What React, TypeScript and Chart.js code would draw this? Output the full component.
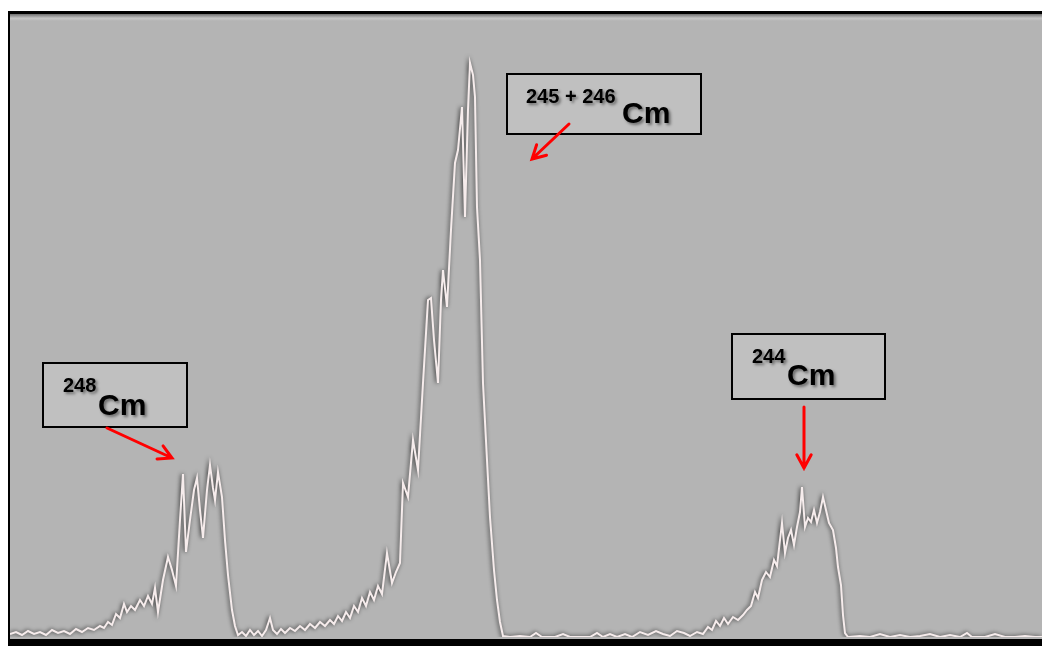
import { useEffect, useRef } from "react";
import { Chart, registerables } from "chart.js";

Chart.register(...registerables);

// channel numbers and counts
const channels = [
  0, 6, 12, 18, 24, 30, 36, 42, 48, 54, 60, 66, 72, 78, 84, 90, 94, 98, 102, 106,
  110, 114, 117, 121, 125, 130, 134, 138, 142, 145, 148, 153, 158, 162, 166, 170,
  173, 176, 180, 184, 187, 190, 193, 197, 200, 203, 205, 208, 212, 215, 218, 222,
  225, 228, 232, 236, 240, 244, 248, 252, 256, 260, 263, 267, 271, 275, 280, 285,
  290, 295, 300, 305, 310, 315, 320, 324, 328, 332, 336, 340, 344, 348, 352, 356,
  360, 364, 368, 372, 377, 382, 386, 390, 393, 398, 403, 408, 413, 418, 421, 424,
  428, 431, 433, 437, 441, 445, 448, 452, 455, 458, 460, 463, 465, 467, 470, 473,
  477, 480, 484, 487, 490, 493, 500, 510, 520, 526, 532, 545, 553, 560, 580, 587,
  593, 600, 607, 615, 622, 630, 638, 646, 653, 660, 667, 674, 680, 687, 693, 698,
  702, 706, 710, 714, 718, 723, 728, 733, 737, 741, 745, 748, 752, 756, 760, 764,
  767, 770, 772, 775, 778, 781, 784, 787, 790, 792, 795, 798, 801, 804, 807, 810,
  813, 816, 819, 823, 826, 828, 831, 833, 835, 838, 850, 860, 870, 880, 890, 900,
  910, 920, 930, 940, 950, 957, 962, 975, 985, 995, 1005, 1015, 1025, 1032,
];

const counts = [
  3, 5, 2, 6, 3, 5, 2, 7, 4, 6, 3, 8, 5, 9, 7, 11, 9, 15, 12, 23,
  19, 33, 25, 31, 27, 37, 31, 41, 33, 49, 25, 57, 80, 67, 51, 117,
  163, 85, 117, 147, 159, 127, 99, 147, 172, 149, 137, 165, 140, 97, 62, 27,
  11, 2, 5, 1, 7, 2, 6, 1, 7, 19, 7, 3, 8, 4, 9, 6,
  11, 7, 13, 9, 15, 11, 17, 13, 21, 16, 25, 19, 31, 25, 39, 31,
  45, 37, 51, 43, 84, 54, 65, 74, 154, 140, 197, 167, 254, 337, 339, 297,
  254, 337, 367, 330, 407, 474, 487, 530, 420, 527, 574, 562, 540, 430, 377, 254,
  177, 120, 67, 37, 15, 1, 0, 1, 0, 4, 0, 0, 3, 0, 0, 4,
  0, 3, 0, 3, 0, 5, 2, 6, 3, 1, 6, 4, 1, 5, 3, 10,
  7, 16, 11, 19, 13, 20, 17, 22, 27, 31, 45, 39, 57, 65, 60, 77,
  71, 97, 114, 84, 99, 107, 92, 110, 125, 150, 110, 119, 115, 127, 114, 125,
  140, 127, 114, 107, 89, 70, 52, 22, 4, 0, 1, 0, 3, 0, 2, 0,
  1, 3, 0, 2, 0, 4, 0, 0, 3, 0, 0, 1, 0, 0,
];

// peak labels: superscript mass number + element
const peakMasses = ["248", "245 + 246", "244"];
const peakElement = "Cm";

// label boxes and arrows (layout only)
const labelBoxes = [
  { x: 43, y: 363, w: 144, h: 64, supX: 63, supY: 392, elX: 98, elY: 415 },
  { x: 507, y: 74, w: 194, h: 60, supX: 526, supY: 103, elX: 622, elY: 123 },
  { x: 732, y: 334, w: 153, h: 65, supX: 752, supY: 363, elX: 787, elY: 385 },
];
const arrows = [
  { x1: 107, y1: 428, x2: 172, y2: 458 },
  { x1: 569, y1: 124, x2: 532, y2: 159 },
  { x1: 804, y1: 407, x2: 804, y2: 468 },
];

const framePlugin = {
  id: "frame",
  beforeDraw(chart: any) {
    const ctx = chart.ctx;
    const w = chart.width;
    const h = chart.height;
    ctx.save();
    ctx.fillStyle = "#ffffff";
    ctx.fillRect(0, 0, w, h);
    ctx.fillStyle = "#b4b4b4";
    ctx.fillRect(8, 11, w - 8, 635);
    const g = ctx.createLinearGradient(0, 14, 0, 21);
    g.addColorStop(0, "#6e6e6e");
    g.addColorStop(0.6, "#c4c4c4");
    g.addColorStop(1, "#b4b4b4");
    ctx.fillStyle = g;
    ctx.fillRect(10, 14, w - 10, 7);
    ctx.fillStyle = "#000000";
    ctx.fillRect(8, 11, w - 8, 3);
    ctx.fillRect(8, 11, 2, 635);
    ctx.fillRect(8, 639, w - 8, 7);
    ctx.restore();
  },
  beforeDatasetDraw(chart: any) {
    const ctx = chart.ctx;
    ctx.save();
    ctx.shadowColor = "rgba(0,0,0,0.75)";
    ctx.shadowBlur = 4;
    ctx.shadowOffsetX = -1;
    ctx.shadowOffsetY = 0;
  },
  afterDatasetDraw(chart: any) {
    chart.ctx.restore();
  },
  afterDraw(chart: any) {
    const ctx = chart.ctx;
    ctx.save();
    labelBoxes.forEach((b, i) => {
      ctx.fillStyle = "#c0c0c0";
      ctx.fillRect(b.x, b.y, b.w, b.h);
      ctx.strokeStyle = "#000000";
      ctx.lineWidth = 2;
      ctx.strokeRect(b.x, b.y, b.w, b.h);
      ctx.save();
      ctx.shadowColor = "rgba(0,0,0,0.45)";
      ctx.shadowBlur = 3;
      ctx.shadowOffsetX = 2;
      ctx.shadowOffsetY = 2;
      ctx.fillStyle = "#000000";
      ctx.textBaseline = "alphabetic";
      ctx.textAlign = "left";
      ctx.font = "bold 20px 'Liberation Sans', Arial, sans-serif";
      ctx.fillText(peakMasses[i], b.supX, b.supY);
      ctx.font = "bold 30px 'Liberation Sans', Arial, sans-serif";
      ctx.fillText(peakElement, b.elX, b.elY);
      ctx.restore();
    });
    ctx.strokeStyle = "#ff0000";
    ctx.lineWidth = 3;
    ctx.lineCap = "round";
    arrows.forEach((a) => {
      const ang = Math.atan2(a.y2 - a.y1, a.x2 - a.x1);
      const hl = 15;
      ctx.beginPath();
      ctx.moveTo(a.x1, a.y1);
      ctx.lineTo(a.x2, a.y2);
      ctx.moveTo(a.x2 - hl * Math.cos(ang - 0.5), a.y2 - hl * Math.sin(ang - 0.5));
      ctx.lineTo(a.x2, a.y2);
      ctx.lineTo(a.x2 - hl * Math.cos(ang + 0.5), a.y2 - hl * Math.sin(ang + 0.5));
      ctx.stroke();
    });
    ctx.restore();
  },
};

const SpectrumChart = () => {
  const chartRef = useRef<HTMLCanvasElement | null>(null);

  useEffect(() => {
    if (chartRef && chartRef.current) {
      const chartInstance = new Chart(chartRef.current, {
        type: "line",
        data: {
          datasets: [
            {
              label: "Cm alpha spectrum",
              data: channels.map((c, i) => ({ x: c, y: counts[i] })),
              borderColor: "#f6ecec",
              borderWidth: 2,
              pointRadius: 0,
              tension: 0,
              fill: false,
            },
          ],
        },
        options: {
          animation: false,
          responsive: true,
          maintainAspectRatio: false,
          layout: { padding: { left: 10, top: 13, right: 0, bottom: 14 } },
          plugins: {
            legend: { display: false },
            tooltip: { enabled: false },
          },
          scales: {
            x: { type: "linear", min: 0, max: 1032, display: false },
            y: { min: 0, max: 624, display: false },
          },
        },
        plugins: [framePlugin],
      });

      return () => {
        chartInstance.destroy();
      };
    }
  }, []);

  return (
    <div style={{ position: "absolute", left: 0, top: 0, width: 1042, height: 651 }}>
      <canvas ref={chartRef} />
    </div>
  );
};

export default function App() {
  return <SpectrumChart />;
}
